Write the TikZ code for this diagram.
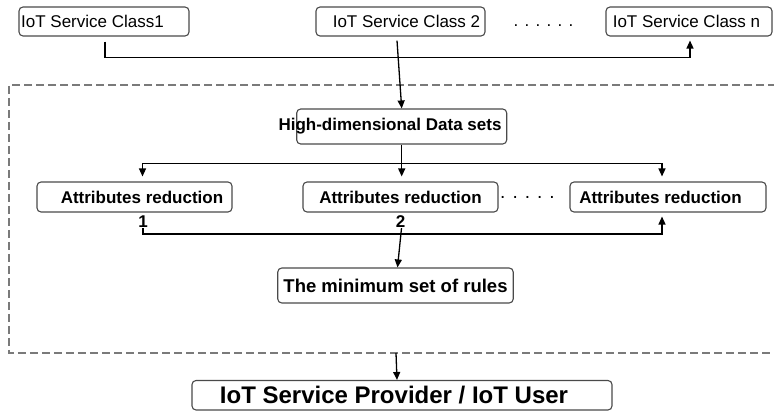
\documentclass[tikz,border=0pt]{standalone}
\usepackage{fontspec}
\setmainfont{Liberation Sans}
\usetikzlibrary{arrows.meta}
\definecolor{boxgray}{HTML}{4A4A4A}
\definecolor{dashgray}{HTML}{7A7A7A}
\begin{document}
\begin{tikzpicture}[x=1pt,y=-1pt,
  box/.style={draw=boxgray, line width=1.1pt, rounded corners=4pt, inner sep=0pt, minimum height=30pt},
  reg/.style={font=\fontsize{17}{20}\selectfont},
  bld/.style={font=\fontsize{17}{20}\selectfont\bfseries},
  num/.style={font=\fontsize{17}{20}\selectfont\bfseries, inner sep=0pt},
  conn/.style={draw=black, line width=1.3pt, -{Triangle[length=8pt,width=7pt]}},
  plain/.style={draw=black, line width=1.3pt},
  frame/.style={draw=dashgray, line width=1.2pt, dash pattern=on 8pt off 4pt}]
\path[use as bounding box, clip] (0,0) rectangle (774,411);
% dashed frame
\draw[frame] (800,85) -- (9,85) -- (9,353) -- (800,353);
\coordinate (fb) at (396,353);
% top row
\node[box, reg, minimum width=170pt, minimum height=29pt] (c1) at (104,21.5) {\makebox[0pt]{IoT Service Class1\hspace*{23pt}}};
\node[box, reg, minimum width=169pt, minimum height=29pt] (c2) at (400.5,21.5) {\makebox[0pt]{\hspace*{12pt}IoT Service Class 2}};
\node[box, reg, minimum width=166pt, minimum height=29pt] (cn) at (689,21.5) {\makebox[0pt]{IoT Service Class n\hspace*{5pt}}};
\node[reg, anchor=base, inner sep=0pt] (dtop) at (543.5,26.5) {. . . . . .};
% high-dimensional
\node[box, bld, minimum width=210pt, minimum height=35pt] (hd) at (401.7,126.5) {\makebox[0pt]{High-dimensional Data sets\hspace*{23.4pt}}};
% attribute reductions
\node[box, bld, minimum width=195pt] (ar1) at (134.5,197) {\makebox[0pt]{\hspace*{15pt}Attributes reduction}};
\node[box, bld, minimum width=195pt] (ar2) at (400.5,197) {\makebox[0pt]{Attributes reduction}};
\node[box, bld, minimum width=196pt] (ar3) at (668,197) {\makebox[0pt]{Attributes reduction\hspace*{15pt}}};
\node[font=\fontsize{19}{22}\selectfont, anchor=base, inner sep=0pt] (dmid) at (527.5,198.5) {. . . . .};
\node[num] (n1) at (143,222) {1};
\node[num] (n2) at (400.5,222) {2};
% minimum set
\node[box, font=\fontsize{18.5}{22}\selectfont\bfseries, minimum width=235.5pt, minimum height=35pt] (mn) at (395.5,285.5) {\makebox[0pt]{The minimum set of rules}};
% bottom
\node[box, font=\fontsize{24}{28}\selectfont\bfseries, minimum width=420pt, minimum height=29.5pt] (bt) at (402,395.25) {\makebox[0pt]{IoT Service Provider / IoT User\hspace*{16pt}}};
% connectors
\draw[conn] ([xshift=1pt,yshift=-5pt]c1.south) -- ++(0,16) -| ([xshift=1pt,yshift=-4pt]cn.south);
\draw[conn] ([xshift=-3.5pt,yshift=-4pt]c2.south) -- (hd.north);
\draw[plain] (hd.south) -- ++(0,19) coordinate (split);
\draw[conn] (split) -| ([xshift=8pt,yshift=5pt]ar1.north);
\draw[conn] (split) -| ([xshift=-6pt,yshift=5pt]ar3.north);
\draw[conn, shorten >=5pt] (split) -- (split |- ar2.north);
\draw[conn] (n1.south) -- ++(0,6) -| ([xshift=-6pt,yshift=-4pt]ar3.south);
\draw[conn] ([xshift=1pt]n2.south) -- ([xshift=2pt]mn.north);
\draw[conn] (fb) -- ([xshift=-5pt]bt.north);
\end{tikzpicture}
\end{document}
